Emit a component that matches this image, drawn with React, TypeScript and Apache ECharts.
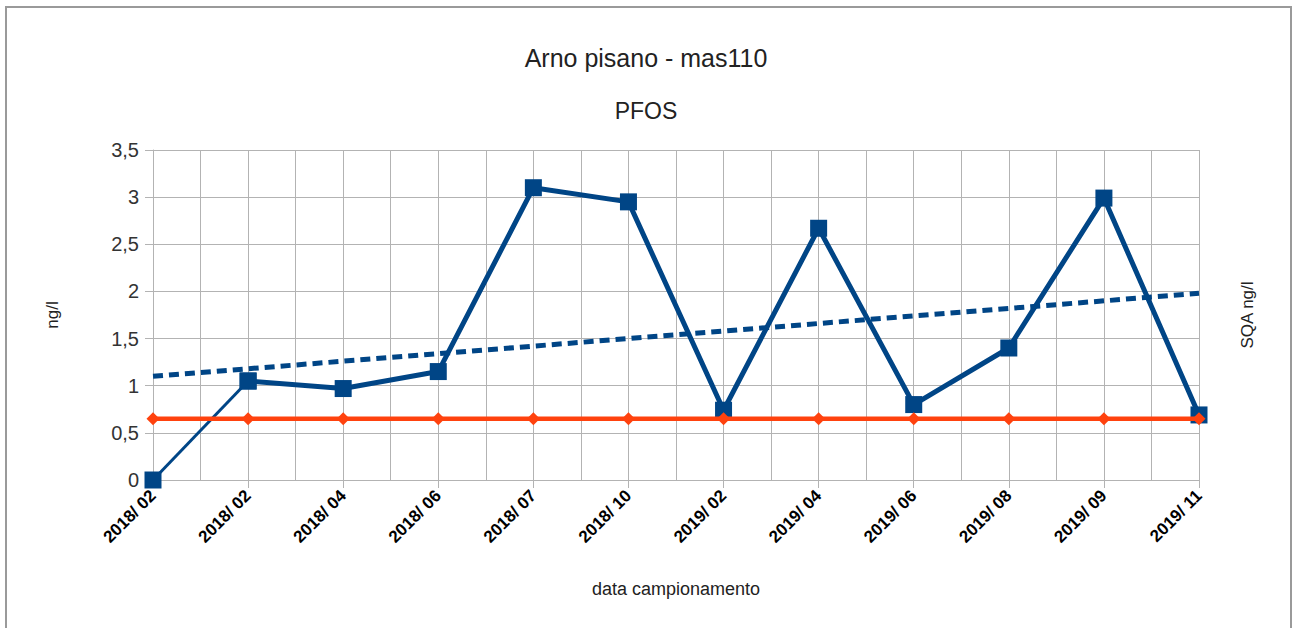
import React, { useEffect, useRef } from "react";
import * as echarts from "echarts";

const categories = [
  "2018/ 02", "2018/ 02", "2018/ 04", "2018/ 06", "2018/ 07", "2018/ 10",
  "2019/ 02", "2019/ 04", "2019/ 06", "2019/ 08", "2019/ 09", "2019/ 11",
];
const pfosValues = [0, 1.05, 0.97, 1.15, 3.1, 2.95, 0.74, 2.67, 0.8, 1.4, 2.99, 0.69];
const sqaValues = [0.65, 0.65, 0.65, 0.65, 0.65, 0.65, 0.65, 0.65, 0.65, 0.65, 0.65, 0.65];
const trendStart = 1.1;
const trendEnd = 1.98;
const yTicks = { min: 0, max: 3.5, interval: 0.5 };

const FONT = "Liberation Sans";
const BLUE = "#004586";
const ORANGE = "#ff420e";
const GRID = "#b3b3b3";

export default function App() {
  const ref = useRef<HTMLDivElement>(null);
  useEffect(() => {
    if (!ref.current) return;
    const chart = echarts.init(ref.current, null, { renderer: "svg" });
    const n = categories.length;
    const firstSeg = pfosValues.map((v, i) => (i <= 1 ? v : null));
    const mainSeg = pfosValues.map((v, i) => (i >= 1 ? v : null));
    chart.setOption({
      animation: false,
      backgroundColor: "#ffffff",
      textStyle: { fontFamily: FONT },
      title: [
        {
          text: "Arno pisano - mas110",
          left: "center",
          top: 40,
          textStyle: { fontFamily: FONT, fontSize: 25, fontWeight: "normal", color: "#222" },
        },
        {
          text: "PFOS",
          left: "center",
          top: 94,
          textStyle: { fontFamily: FONT, fontSize: 23, fontWeight: "normal", color: "#222" },
        },
      ],
      graphic: [
        {
          type: "rect",
          shape: { x: 6, y: 7, width: 1285, height: 660 },
          style: { fill: "none", stroke: "#9a9a9a", lineWidth: 2 },
          silent: true,
        },
      ],
      grid: { left: 153, right: 93, top: 150, bottom: 148, containLabel: false },
      xAxis: [
        {
          type: "category",
          data: categories,
          boundaryGap: false,
          name: "data campionamento",
          nameLocation: "middle",
          nameGap: 100,
          nameTextStyle: { fontFamily: FONT, fontSize: 18, color: "#222" },
          axisLine: { show: true, lineStyle: { color: GRID, width: 1 } },
          axisTick: { show: true, alignWithLabel: true, length: 8, lineStyle: { color: GRID } },
          splitLine: { show: false },
          axisLabel: {
            rotate: 45,
            margin: 13,
            interval: 0,
            fontFamily: FONT,
            fontSize: 17,
            fontWeight: "bold",
            color: "#000",
          },
        },
        {
          type: "value",
          min: 0,
          max: 2 * (n - 1),
          interval: 1,
          show: true,
          position: "bottom",
          axisLine: { show: false },
          axisTick: { show: false },
          axisLabel: { show: false },
          splitLine: { show: true, lineStyle: { color: GRID, width: 1 } },
        },
      ],
      yAxis: [
        {
          type: "value",
          min: yTicks.min,
          max: yTicks.max,
          interval: yTicks.interval,
          name: "ng/l",
          nameLocation: "middle",
          nameGap: 92,
          nameRotate: 90,
          nameTextStyle: { fontFamily: FONT, fontSize: 17, color: "#222" },
          axisLine: { show: true, lineStyle: { color: GRID } },
          axisTick: { show: true, length: 8, lineStyle: { color: GRID } },
          axisLabel: {
            margin: 14,
            fontFamily: FONT,
            fontSize: 20,
            color: "#333",
            formatter: (v: number) => String(v).replace(".", ","),
          },
          splitLine: { show: true, lineStyle: { color: GRID, width: 1 } },
        },
        {
          type: "value",
          position: "right",
          min: yTicks.min,
          max: yTicks.max,
          interval: yTicks.interval,
          name: "SQA ng/l",
          nameLocation: "middle",
          nameGap: 40,
          nameRotate: 90,
          nameTextStyle: { fontFamily: FONT, fontSize: 17, color: "#222" },
          axisLine: { show: false },
          axisTick: { show: false },
          axisLabel: { show: false },
          splitLine: { show: false },
        },
      ],
      series: [
        {
          name: "PFOS start",
          type: "line",
          data: firstSeg,
          symbol: "rect",
          symbolSize: 17,
          showAllSymbol: true,
          lineStyle: { color: BLUE, width: 3 },
          itemStyle: { color: BLUE },
          connectNulls: false,
          z: 3,
        },
        {
          name: "PFOS",
          type: "line",
          data: mainSeg,
          symbol: "rect",
          symbolSize: 17,
          showAllSymbol: true,
          lineStyle: { color: BLUE, width: 5 },
          itemStyle: { color: BLUE },
          connectNulls: false,
          z: 3,
        },
        {
          name: "trend",
          type: "line",
          data: [
            [0, trendStart],
            [n - 1, trendEnd],
          ],
          symbol: "none",
          lineStyle: { color: BLUE, width: 5, type: [10, 6] },
          z: 4,
        },
        {
          name: "SQA",
          type: "line",
          data: sqaValues,
          symbol: "diamond",
          symbolSize: 13,
          showAllSymbol: true,
          lineStyle: { color: ORANGE, width: 4.5 },
          itemStyle: { color: ORANGE },
          z: 5,
        },
      ],
    });
    return () => chart.dispose();
  }, []);
  return (
    <div
      ref={ref}
      style={{ position: "fixed", left: 0, top: 0, width: 1292, height: 628 }}
    />
  );
}
